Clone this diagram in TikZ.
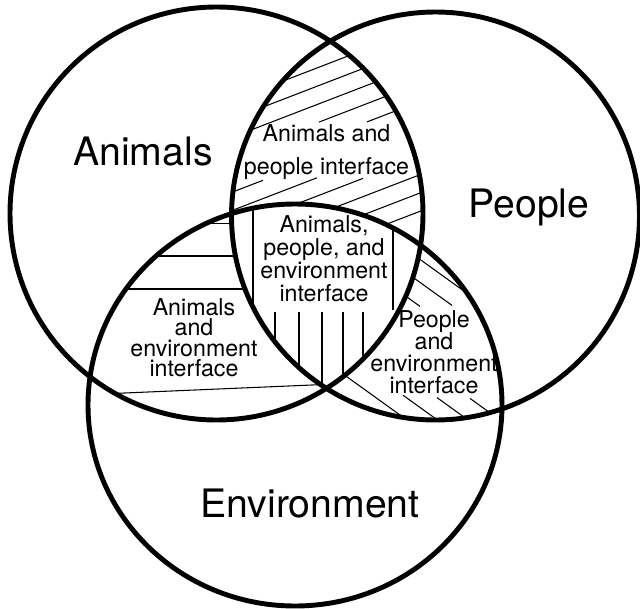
\documentclass[tikz,border=0pt]{standalone}
\usepackage{fontspec}
\setmainfont{TeX Gyre Heros}
\tikzset{
  ring/.style={line width=2.8pt},
  hatch/.style={line width=0.6pt},
  biglabel/.style={inner sep=0pt, anchor=base, font=\fontsize{22.3}{26}\selectfont},
  smalllabel/.style={inner sep=0pt, align=center,
    font={\fontsize{13.2}{#1}\selectfont\lineskiplimit=-10pt}},
}

\begin{document}
\begin{tikzpicture}[x=0.02cm, y=-0.02cm]
\useasboundingbox (0,0) rectangle (640,609);
\coordinate (A) at (216.5,213.5);
\coordinate (P) at (435.5,216);
\coordinate (E) at (295,405);

% animals and people only
\begin{scope}[even odd rule]
\clip (A) circle[radius=206.5];
\clip (P) circle[radius=204];
\clip (0,0) rectangle (640,609) (E) ellipse[x radius=207, y radius=201];
\foreach \c in {190,208.3,226.6,336.4,354.7,373}
  \draw[hatch] (200,{\c-77}) -- (450,{\c-173.25});
\draw[hatch] (319,122.1) -- (450,71.6);
\draw[hatch] (367,121.9) -- (450,89.9);
\draw[hatch] (200,204.5) -- (263,180.3);
\draw[hatch] (200,222.8) -- (317,177.8);
\draw[hatch] (200,241.1) -- (363,178.4);
\end{scope}

% animals and environment only
\begin{scope}[even odd rule]
\clip (A) circle[radius=206.5];
\clip (E) ellipse[x radius=207, y radius=201];
\clip (0,0) rectangle (640,609) (P) circle[radius=204];
\foreach \y in {223.5,256,289}
  \draw[hatch] (50,\y) -- (300,\y);
\draw[hatch] (80,394.9) -- (340,383.8);
\end{scope}

% all three
\begin{scope}
\clip (A) circle[radius=206.5];
\clip (P) circle[radius=204];
\clip (E) ellipse[x radius=207, y radius=201];
\draw[hatch] (253,150) -- (253,420);
\draw[hatch] (393,150) -- (393,310);
\foreach \x in {275,299,322,343,363}
  \draw[hatch] (\x,312) -- (\x,450);
\end{scope}

% people and environment only
\begin{scope}[even odd rule]
\clip (P) circle[radius=204];
\clip (E) ellipse[x radius=207, y radius=201];
\clip (0,0) rectangle (640,609) (A) circle[radius=206.5];
\draw[hatch] (380,230.6) -- (520,331.4);
\draw[hatch] (380,253.6) -- (452,305.4);
\draw[hatch] (380,277.6) -- (420,306.4);
\draw[hatch] (470,398.4) -- (520,434.4);
\draw[hatch] (437,397.6) -- (520,457.4);
\draw[hatch] (403,395.2) -- (520,479.4);
\draw[hatch] (330,364.6) -- (520,501.4);
\end{scope}

\node[biglabel] (animals) at (143,165) {Animals};
\node[biglabel] (people) at (529,217) {People};
\node[biglabel] (environment) at (310,517) {Environment};

\node[smalllabel=18.8pt] (animalspeople) at (326.5,151.7) {Animals and\\people interface};
\node[smalllabel=13.2pt] (allthree) at (324,258.7) {Animals,\\people, and\\environment\\interface};
\node[smalllabel=11.7pt] (animalsenv) at (194,337.6) {Animals\\and\\environment\\interface};
\node[smalllabel=12.35pt] (peopleenv) at (434,352.2) {People\\and\\environment\\interface};

\draw[ring] (A) circle[radius=206.5];
\draw[ring] (P) circle[radius=204];
\draw[ring] (E) ellipse[x radius=207, y radius=201];
\end{tikzpicture}
\end{document}
